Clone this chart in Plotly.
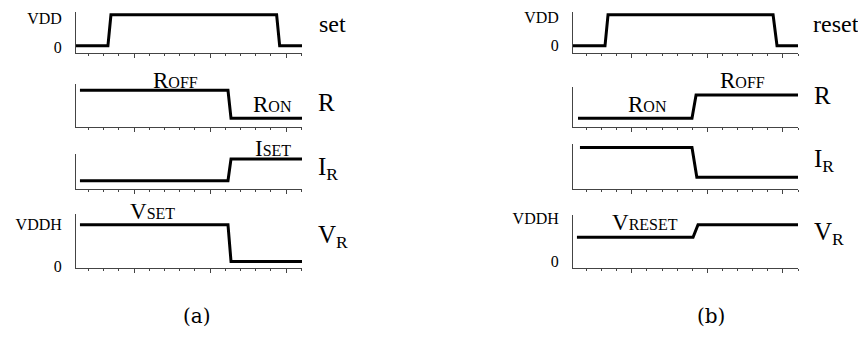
import plotly.graph_objects as go

# the page body keeps its default 8px margin, so the figure is shifted by that
OFF = 8
W, H = 866 - OFF, 337 - OFF

# signal data (time in tick units, level 0/1)
set_t = [0, 2.1, 2.3, 13.2, 13.4, 14.87]
set_v = [0, 0, 1, 1, 0, 0]
ra_t = [0.26, 10.0, 10.2, 14.87]
ra_v = [1, 1, 0, 0]
ia_t = [0.26, 10.0, 10.2, 14.87]
ia_v = [0, 0, 1, 1]
va_t = [0.26, 10.0, 10.2, 14.87]
va_v = [1, 1, 0, 0]

reset_t = [0, 2.12, 2.32, 13.25, 13.51, 14.9]
reset_v = [0, 0, 1, 1, 0, 0]
rb_t = [0.33, 7.88, 8.15, 14.9]
rb_v = [0, 0, 1, 1]
ib_t = [0.46, 7.88, 8.2, 14.9]
ib_v = [1, 1, 0, 0]
vb_t = [0.26, 7.95, 8.28, 14.9]
vb_v = [0, 0, 1, 1]

# tick labels on y axes
vdd_ticks = ["VDD", "0"]
vddh_ticks = ["VDDH", "0"]


def px(x):
    return (x - OFF) / W


def py(y):
    return min(1.0, max(0.0, 1 - (y - OFF) / H))


# (t, v, x-px range, y-px range, y range, x range, major tick0, y tickvals, y ticktext)
panels = [
    (set_t, set_v, (76, 302), (8, 50), [-0.22, 1.09], [0, 14.87], 3.82, [0.88, -0.05], vdd_ticks),
    (ra_t, ra_v, (76, 302), (83, 127), [-0.31, 1.21], [0, 14.87], 3.82, None, None),
    (ia_t, ia_v, (76, 302), (155, 191), [-0.37, 1.22], [0, 14.87], 3.82, None, None),
    (va_t, va_v, (76, 302), (217, 273), [-0.18, 1.29], [0, 14.87], 3.82, [1, -0.13], vddh_ticks),
    (reset_t, reset_v, (573, 798), (8, 50), [-0.22, 1.09], [0, 14.9], 3.9, [0.92, 0], vdd_ticks),
    (rb_t, rb_v, (573, 798), (86, 127), [-0.375, 1.33], [0, 14.9], 3.9, None, None),
    (ib_t, ib_v, (573, 798), (145, 191), [-0.39, 1.1], [0, 14.9], 3.9, None, None),
    (vb_t, vb_v, (573, 798), (218, 273), [-2.46, 1.77], [0, 14.9], 3.9, [1.46, -1.92], vddh_ticks),
]

SERIF = "Liberation Serif, Times New Roman, serif"

fig = go.Figure()
layout = {}
for i, (t, v, xr, yr, yrange, xrange, tick0, tv, tt) in enumerate(panels, start=1):
    sfx = "" if i == 1 else str(i)
    fig.add_trace(go.Scatter(x=t, y=v, mode="lines",
                             line=dict(color="black", width=3),
                             xaxis="x" + sfx, yaxis="y" + sfx,
                             showlegend=False, hoverinfo="skip"))
    layout["xaxis" + sfx] = dict(
        domain=[px(xr[0]), px(xr[1])], range=xrange, anchor="y" + sfx,
        showgrid=False, zeroline=False, showline=True, linecolor="#444", linewidth=1,
        ticks="outside", ticklen=4, tickcolor="#444", tick0=tick0, dtick=5,
        showticklabels=False,
        minor=dict(ticks="outside", ticklen=2, tickcolor="#444", tick0=tick0 - 3, dtick=1, showgrid=False),
    )
    ya = dict(
        domain=[py(yr[1]), py(yr[0])], range=yrange, anchor="x" + sfx,
        showgrid=False, zeroline=False, showline=True, linecolor="#444", linewidth=1,
    )
    if tv:
        ya.update(tickvals=tv, ticktext=tt, ticks="outside", ticklen=10,
                  tickcolor="rgba(0,0,0,0)",
                  tickfont=dict(family=SERIF, size=16, color="black"))
    else:
        ya.update(showticklabels=False, ticks="")
    layout["yaxis" + sfx] = ya

big = dict(family=SERIF, size=25, color="black")
top = dict(family=SERIF, size=24, color="black")
mid = dict(family=SERIF, size=23, color="black")
cap = dict(family="DejaVu Serif", size=20, color="black")


def small(s):
    return '<span style="font-size:16px">' + s + '</span>'


labels = [
    ("set", 317, 20, "left", top),
    ("R", 316, 102, "left", big),
    ("I<sub>R</sub>", 316, 170, "left", big),
    ("V<sub>R</sub>", 316, 240, "left", big),
    ("reset", 811, 20, "left", top),
    ("R", 812, 94, "left", big),
    ("I<sub>R</sub>", 812, 162, "left", big),
    ("V<sub>R</sub>", 812, 237, "left", big),
    ("R" + small("OFF"), 175, 79, "center", mid),
    ("R" + small("ON"), 272, 104, "center", mid),
    ("I" + small("SET"), 273, 149, "center", mid),
    ("V" + small("SET"), 152, 214, "center", mid),
    ("R" + small("ON"), 647, 104, "center", mid),
    ("R" + small("OFF"), 742, 79, "center", mid),
    ("V" + small("RESET"), 645, 226, "center", mid),
    ("(a)", 197, 322, "center", cap),
    ("(b)", 711, 322, "center", cap),
]
annotations = [
    dict(text=txt, x=px(x), y=py(y), xref="paper", yref="paper",
         xanchor=anc, yanchor="middle", showarrow=False, font=f)
    for txt, x, y, anc, f in labels
]

fig.update_layout(
    width=W, height=H,
    margin=dict(l=0, r=0, t=0, b=0),
    paper_bgcolor="white", plot_bgcolor="white",
    annotations=annotations,
    **layout,
)

fig.write_html("out.html")
